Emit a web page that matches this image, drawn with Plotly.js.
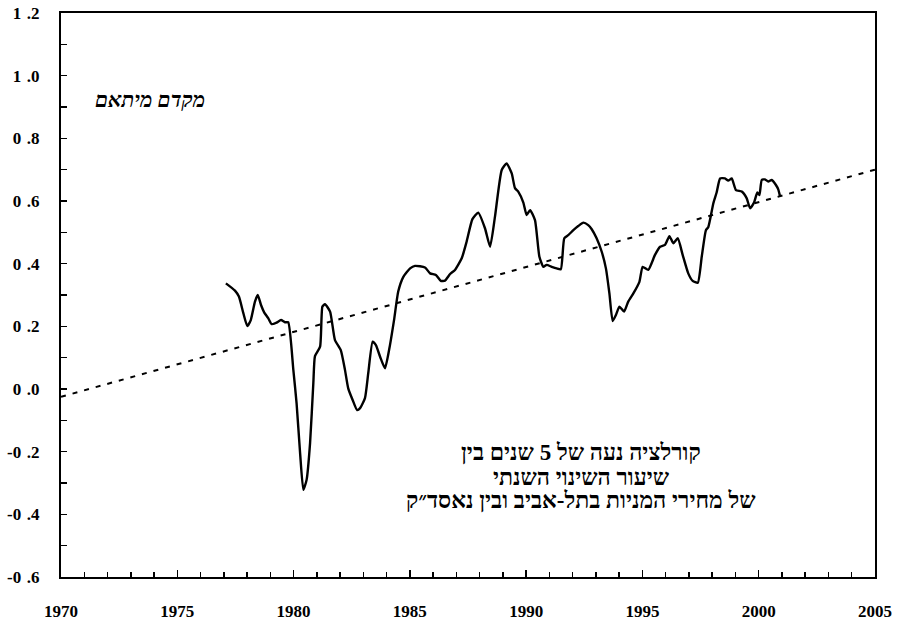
<!DOCTYPE html>
<html>
<head>
<meta charset="utf-8">
<script src="https://cdn.plot.ly/plotly-3.0.1.min.js"></script>
<style>html,body{margin:0;padding:0;background:#fff;}#chart{width:898px;height:623px;}</style>
</head>
<body>
<div id="chart"></div>
<script>
// Rolling 5-year correlation, Tel Aviv vs NASDAQ annual change
const years = [1977.09,1977.48,1977.65,1977.84,1978.01,1978.16,1978.34,1978.46,1978.60,1978.74,1978.91,1979.06,1979.27,1979.46,1979.63,1979.77,1979.99,1980.13,1980.28,1980.42,1980.56,1980.71,1980.85,1980.92,1981.14,1981.24,1981.35,1981.57,1981.78,1982.03,1982.21,1982.35,1982.54,1982.73,1982.86,1983.07,1983.21,1983.40,1983.54,1983.72,1983.93,1984.12,1984.32,1984.50,1984.72,1985.01,1985.22,1985.65,1985.87,1986.12,1986.33,1986.51,1986.73,1986.94,1987.23,1987.44,1987.69,1987.94,1988.23,1988.45,1988.66,1988.95,1989.16,1989.38,1989.52,1989.66,1989.88,1990.02,1990.17,1990.38,1990.57,1990.74,1990.88,1991.10,1991.31,1991.49,1991.64,1991.81,1992.03,1992.24,1992.46,1992.67,1992.82,1993.03,1993.25,1993.43,1993.58,1993.72,1993.86,1994.01,1994.21,1994.39,1994.61,1994.87,1995.01,1995.25,1995.54,1995.76,1995.97,1996.16,1996.33,1996.52,1996.73,1996.97,1997.16,1997.38,1997.55,1997.73,1997.83,1998.05,1998.19,1998.34,1998.55,1998.69,1998.84,1999.02,1999.27,1999.48,1999.63,1999.80,1999.94,2000.03,2000.13,2000.27,2000.41,2000.56,2000.74,2000.84,2000.92];
const corr = [0.337,0.314,0.295,0.242,0.201,0.220,0.279,0.300,0.268,0.244,0.226,0.207,0.212,0.220,0.213,0.213,0.061,-0.046,-0.204,-0.322,-0.290,-0.172,0.019,0.105,0.135,0.263,0.271,0.247,0.156,0.124,0.061,0.002,-0.035,-0.067,-0.061,-0.029,0.050,0.151,0.140,0.103,0.066,0.130,0.220,0.311,0.358,0.385,0.393,0.388,0.369,0.364,0.345,0.346,0.367,0.380,0.417,0.470,0.542,0.563,0.513,0.454,0.550,0.699,0.720,0.688,0.641,0.630,0.595,0.555,0.571,0.539,0.422,0.390,0.396,0.390,0.385,0.382,0.481,0.491,0.507,0.520,0.531,0.523,0.510,0.481,0.438,0.385,0.305,0.217,0.236,0.263,0.247,0.279,0.305,0.342,0.390,0.380,0.428,0.454,0.460,0.488,0.465,0.481,0.428,0.369,0.345,0.339,0.422,0.507,0.516,0.593,0.627,0.672,0.672,0.665,0.672,0.635,0.630,0.609,0.577,0.595,0.627,0.619,0.667,0.669,0.662,0.667,0.651,0.637,0.614];
// Linear trend
const trendYears = [1970, 2005];
const trendVals = [-0.025, 0.70];
// Axis ticks
const yTickVals = [1.2,1.0,0.8,0.6,0.4,0.2,0.0,-0.2,-0.4,-0.6];
const yTickText = ['1\u2004.2','1\u2004.0','0\u2004.8','0\u2004.6','0\u2004.4','0\u2004.2','0\u2004.0','-0\u2004.2','-0\u2004.4','-0\u2004.6'];
const xTickVals = [1970,1975,1980,1985,1990,1995,2000,2005];
const xTickText = ['1970','1975','1980','1985','1990','1995','2000','2005'];
const yLabel = 'מקדם מיתאם';
const noteLines = ['קורלציה נעה של 5 שנים בין','שיעור השינוי השנתי','של מחירי המניות בתל-אביב ובין נאסד״ק'];

const fontFam = 'Liberation Serif, Times New Roman, serif';

const traces = [
  {x: trendYears, y: trendVals, type: 'scatter', mode: 'lines',
   line: {color: '#000', width: 2, dash: '5px,7px'}, hoverinfo: 'skip'},
  {x: years, y: corr, type: 'scatter', mode: 'lines',
   line: {color: '#000', width: 2.4, shape: 'spline', smoothing: 0.5}, hoverinfo: 'skip'}
];

const noteY = [0.2216, 0.1773, 0.1348];
const noteAnns = noteLines.map((t, i) => ({
  xref: 'paper', yref: 'paper', x: 0.639, y: noteY[i], xanchor: 'center', yanchor: 'middle',
  text: t, showarrow: false, font: {family: fontFam, size: 23, color: '#000', weight: 'bold'}
}));

const layout = {
  width: 898, height: 623,
  margin: {l: 61, r: 23, t: 13, b: 46},
  paper_bgcolor: '#fff', plot_bgcolor: '#fff',
  showlegend: false,
  font: {family: fontFam, color: '#000'},
  xaxis: {
    range: [1970, 2005], tickvals: xTickVals, ticktext: xTickText,
    showgrid: false, zeroline: false, showline: true, linewidth: 2, linecolor: '#000', mirror: true,
    ticks: 'inside', ticklen: 7, tickwidth: 1.5, tickcolor: '#000',
    ticklabelstandoff: 18,
    minor: {dtick: 1, ticks: 'inside', ticklen: 5, tickwidth: 1.5, tickcolor: '#000', showgrid: false},
    tickfont: {family: fontFam, size: 17, color: '#000', weight: 'bold'}
  },
  yaxis: {
    range: [-0.6, 1.2], tickvals: yTickVals, ticktext: yTickText,
    showgrid: false, zeroline: false, showline: true, linewidth: 2, linecolor: '#000', mirror: true,
    ticks: 'inside', ticklen: 6, tickwidth: 1.5, tickcolor: '#000',
    ticklabelstandoff: 16,
    minor: {tickvals: [1.1,0.9,0.7,0.5,0.3,0.1,-0.1,-0.3,-0.5], ticks: 'inside', ticklen: 6, tickwidth: 1.5, tickcolor: '#000', showgrid: false},
    tickfont: {family: fontFam, size: 17, color: '#000', weight: 'bold'}
  },
  annotations: [
    {xref: 'paper', yref: 'paper', x: 0.109, y: 0.846, xanchor: 'center', yanchor: 'middle',
     text: '<i>' + yLabel + '</i>', showarrow: false,
     font: {family: fontFam, size: 21, color: '#000', weight: 'bold'}}
  ].concat(noteAnns)
};

Plotly.newPlot('chart', traces, layout, {displayModeBar: false, staticPlot: true});
</script>
</body>
</html>
